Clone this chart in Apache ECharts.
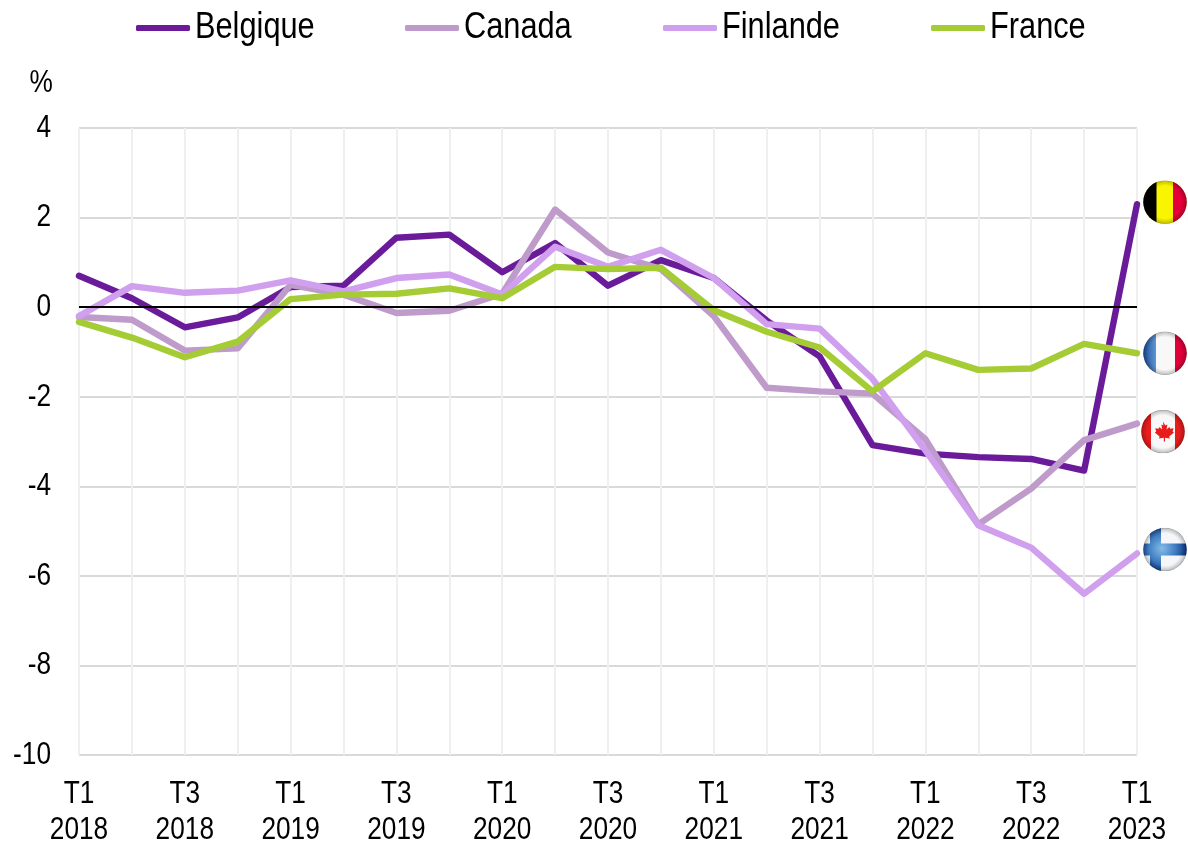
<!DOCTYPE html>
<html>
<head>
<meta charset="utf-8">
<style>html,body{margin:0;padding:0;background:#fff}#c{width:1188px;height:848px}</style>
<script src="https://cdn.jsdelivr.net/npm/echarts@6/dist/echarts.min.js"></script>
</head>
<body>
<div id="c"></div>
<script>
const quarters = ['T1\n2018','T2\n2018','T3\n2018','T4\n2018','T1\n2019','T2\n2019','T3\n2019','T4\n2019','T1\n2020','T2\n2020','T3\n2020','T4\n2020','T1\n2021','T2\n2021','T3\n2021','T4\n2021','T1\n2022','T2\n2022','T3\n2022','T4\n2022','T1\n2023'];
const belgique = [0.7,0.2,-0.45,-0.23,0.45,0.48,1.55,1.62,0.78,1.43,0.48,1.05,0.65,-0.3,-1.1,-3.08,-3.27,-3.35,-3.39,-3.65,2.3];
const canada = [-0.22,-0.28,-0.97,-0.92,0.5,0.28,-0.13,-0.08,0.3,2.18,1.22,0.85,-0.2,-1.8,-1.88,-1.93,-2.95,-4.85,-4.05,-2.97,-2.6];
const finlande = [-0.2,0.47,0.32,0.37,0.6,0.35,0.65,0.73,0.28,1.35,0.9,1.28,0.65,-0.38,-0.48,-1.6,-3.2,-4.87,-5.37,-6.4,-5.5];
const france = [-0.33,-0.68,-1.12,-0.77,0.18,0.28,0.3,0.42,0.2,0.9,0.85,0.88,-0.07,-0.55,-0.9,-1.88,-1.03,-1.4,-1.37,-0.82,-1.03];
const seriesNames = ['Belgique','Canada','Finlande','France'];

const FONT = '"Liberation Sans",Arial,sans-serif';
const FS = 32;
const NARROW = 0.82;

function flag(body){
  const svg = `<svg xmlns="http://www.w3.org/2000/svg" width="88" height="88" viewBox="0 0 44 44">
<defs><clipPath id="k"><circle cx="22" cy="22" r="21.7"/></clipPath>
<radialGradient id="s" cx="0.5" cy="0.5" r="0.5"><stop offset="0.74" stop-color="#000" stop-opacity="0"/><stop offset="0.94" stop-color="#000" stop-opacity="0.2"/><stop offset="1" stop-color="#000" stop-opacity="0.5"/></radialGradient>
<linearGradient id="b" x1="0" x2="1" y1="0" y2="0"><stop offset="0" stop-color="#1c4f9c"/><stop offset="1" stop-color="#5f95d2"/></linearGradient>
<radialGradient id="f" gradientUnits="userSpaceOnUse" cx="19" cy="21" r="25"><stop offset="0" stop-color="#84bce8"/><stop offset="0.55" stop-color="#3f7cc0"/><stop offset="1" stop-color="#0e3684"/></radialGradient></defs>
<g clip-path="url(#k)">${body}<rect width="44" height="44" fill="url(#s)"/></g></svg>`;
  return 'image://data:image/svg+xml;charset=utf-8,' + encodeURIComponent(svg);
}
const flags = {
  be: flag('<rect width="44" height="44" fill="#f9f500"/><rect width="13.5" height="44" fill="#000"/><rect x="30" width="14" height="44" fill="#e5003a"/>'),
  fr: flag('<rect width="44" height="44" fill="#f8f8f8"/><rect width="13" height="44" fill="url(#b)"/><rect x="32" width="12" height="44" fill="#e0003a"/>'),
  ca: flag('<rect width="44" height="44" fill="#f8f8f8"/><rect width="10" height="44" fill="#e81c1c"/><rect x="34" width="10" height="44" fill="#e81c1c"/><path d="M22 12l2.4 4 2-1-0.8 5 2.8-2.6 0.8 1.8 3.4-0.6-1 3.4 1.4 0.8-4.8 4 0.6 2-4.8-0.6V32h-1.2v-3.8l-4.8 0.6 0.6-2-4.8-4 1.4-0.8-1-3.4 3.4 0.6 0.8-1.8 2.8 2.6-0.8-5 2 1z" fill="#e81c1c"/>'),
  fi: flag('<rect width="44" height="44" fill="#f4f6fa"/><path d="M7 0h11v16h26v12H18v16H7V28H0V16h7z" fill="url(#f)"/>')
};

function mk(name, data, color, img, off){
  return {
    name, type:'line', data, symbol:'none', smooth:false,
    lineStyle:{color, width:6.4, cap:'round', join:'round'},
    itemStyle:{color},
    clip:false,
    markPoint:{
      silent:true, animation:false,
      symbol:img, symbolSize:44, symbolOffset:off,
      label:{show:false},
      data:[{coord:[data.length-1, data[data.length-1]]}]
    }
  };
}
const series = [
  mk(seriesNames[0], belgique, '#6A1B9A', flags.be, [28,-2]),
  mk(seriesNames[1], canada, '#BF9BCB', flags.ca, [26,8]),
  mk(seriesNames[2], finlande, '#D09FEE', flags.fi, [28,-4]),
  mk(seriesNames[3], france, '#A5CC35', flags.fr, [28,0])
];
series[0].markLine = {silent:true, animation:false, symbol:'none', label:{show:false},
  lineStyle:{color:'#000', width:2, type:'solid'}, data:[{yAxis:0}]};

const legendLeft = [136,405,663,931];
const legend = seriesNames.map((n,i)=>({
  data:[n], left:legendLeft[i], top:9, padding:0,
  icon:'roundRect', itemWidth:54, itemHeight:6, itemGap:0,
  textStyle:{fontFamily:FONT, fontSize:37.5, color:'#000'}
}));

const chart = echarts.init(document.getElementById('c'), null, {renderer:'canvas'});
chart.setOption({
  animation:false,
  backgroundColor:'#fff',
  legend,
  grid:{left:79, right:51, top:128, bottom:93},
  xAxis:{
    type:'category', boundaryGap:false, data:quarters,
    axisLine:{onZero:false, show:false},
    axisTick:{show:false},
    axisLabel:{interval:1, color:'#000', fontFamily:FONT, fontSize:FS, lineHeight:36, margin:21, showMaxLabel:true},
    splitLine:{show:true, interval:0, lineStyle:{color:'#efefef', width:2}}
  },
  yAxis:{
    type:'value', min:-10, max:4, interval:2,
    name:'%', nameLocation:'end', nameGap:29,
    nameTextStyle:{fontFamily:FONT, fontSize:FS, color:'#000', align:'right', padding:[0,32,0,0]},
    axisLine:{show:false}, axisTick:{show:false},
    axisLabel:{color:'#000', fontFamily:FONT, fontSize:FS, margin:28},
    splitLine:{show:true, lineStyle:{color:'#d9d9d9', width:2}}
  },
  series
});

// The reference uses a narrow Arial; squeeze each text about its own anchor.
function narrow(){
  const zr = chart.getZr();
  const seen = new Set();
  zr.storage.getDisplayList(true).forEach(el=>{
    const t = el.parent;
    if(el.type==='tspan' && t && !seen.has(t)){
      seen.add(t);
      t.originX = (t.style && t.style.x) || 0;
      t.scaleX = NARROW;
      t.markRedraw();
    }
  });
  zr.refreshImmediately();
}
narrow();
chart.on('finished', narrow);
</script>
</body>
</html>
